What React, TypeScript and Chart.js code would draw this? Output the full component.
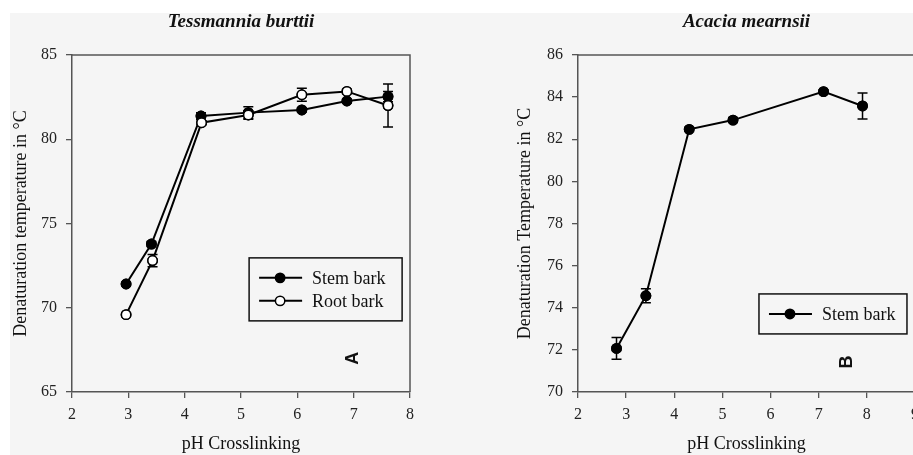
import React, { useEffect, useRef } from "react";
import { Chart, registerables } from "chart.js";

Chart.register(...registerables);

// ---- Data: Tessmannia burttii (panel A) ----
const tbStemPH = [2.96, 3.41, 4.29, 5.13, 6.08, 6.88, 7.61];
const tbStemTemp = [71.41, 73.78, 81.38, 81.58, 81.74, 82.27, 82.53];
const tbStemErr = [0.1, 0.15, 0.2, 0.35, 0.12, 0.12, 0.3];
const tbRootPH = [2.96, 3.43, 4.3, 5.13, 6.08, 6.88, 7.61];
const tbRootTemp = [69.59, 72.8, 80.98, 81.44, 82.64, 82.84, 82.0];
const tbRootErr = [0.1, 0.36, 0.12, 0.25, 0.38, 0.12, 1.28];
const tbXTicks = [2, 3, 4, 5, 6, 7, 8];
const tbYTicks = [65, 70, 75, 80, 85];

// ---- Data: Acacia mearnsii (panel B) ----
const amStemPH = [2.8, 3.41, 4.31, 5.22, 7.1, 7.91];
const amStemTemp = [72.07, 74.57, 82.47, 82.91, 84.26, 83.58];
const amStemErr = [0.52, 0.33, 0.1, 0.12, 0.08, 0.62];
const amXTicks = [2, 3, 4, 5, 6, 7, 8, 9];
const amYTicks = [70, 72, 74, 76, 78, 80, 82, 84, 86];

const SERIF = "'Liberation Serif', 'Times New Roman', serif";
const SANS = "'Liberation Sans', Arial, sans-serif";
const BG = "#f5f5f5";
const AXIS = "#555";

const errorBarPlugin = {
  id: "errorBars",
  afterDatasetsDraw(chart: any) {
    const ctx = chart.ctx;
    const xs = chart.scales.x;
    const ys = chart.scales.y;
    ctx.save();
    ctx.strokeStyle = "#000";
    ctx.lineWidth = 1.5;
    chart.data.datasets.forEach((ds: any) => {
      if (!ds.errors) return;
      ds.data.forEach((p: any, i: number) => {
        const e = ds.errors[i];
        const px = xs.getPixelForValue(p.x);
        const y1 = ys.getPixelForValue(p.y + e);
        const y2 = ys.getPixelForValue(p.y - e);
        ctx.beginPath();
        ctx.moveTo(px, y1);
        ctx.lineTo(px, y2);
        ctx.moveTo(px - 5, y1);
        ctx.lineTo(px + 5, y1);
        ctx.moveTo(px - 5, y2);
        ctx.lineTo(px + 5, y2);
        ctx.stroke();
      });
    });
    ctx.restore();
    // redraw markers on top of error bars
    chart.data.datasets.forEach((ds: any, di: number) => {
      const meta = chart.getDatasetMeta(di);
      meta.data.forEach((pt: any) => pt.draw(ctx, chart.chartArea));
    });
  },
};

const framePlugin = {
  id: "frame",
  afterDraw(chart: any) {
    const { ctx, chartArea } = chart;
    ctx.save();
    ctx.strokeStyle = AXIS;
    ctx.lineWidth = 1.5;
    ctx.beginPath();
    ctx.moveTo(chartArea.left, chartArea.top);
    ctx.lineTo(chartArea.right, chartArea.top);
    ctx.lineTo(chartArea.right, chartArea.bottom);
    ctx.stroke();
    ctx.restore();
  },
};

const boxLegendPlugin = {
  id: "boxLegend",
  afterDraw(chart: any, _args: any, opts: any) {
    const { ctx, chartArea } = chart;
    const left = chartArea.left + opts.fx * (chartArea.right - chartArea.left);
    const top = chartArea.top + opts.fy * (chartArea.bottom - chartArea.top);
    ctx.save();
    ctx.fillStyle = BG;
    ctx.fillRect(left, top, opts.w, opts.h);
    ctx.strokeStyle = "#111";
    ctx.lineWidth = 1.5;
    ctx.strokeRect(left, top, opts.w, opts.h);
    const dss = chart.data.datasets;
    const start = top + (opts.h - (dss.length - 1) * opts.rowGap) / 2;
    dss.forEach((ds: any, i: number) => {
      const y = start + i * opts.rowGap;
      ctx.strokeStyle = ds.borderColor;
      ctx.lineWidth = ds.borderWidth;
      ctx.beginPath();
      ctx.moveTo(left + 10, y);
      ctx.lineTo(left + 53, y);
      ctx.stroke();
      ctx.beginPath();
      ctx.arc(left + 31, y, ds.pointRadius, 0, Math.PI * 2);
      ctx.fillStyle = ds.pointBackgroundColor;
      ctx.fill();
      ctx.lineWidth = ds.pointBorderWidth;
      ctx.strokeStyle = ds.pointBorderColor;
      ctx.stroke();
      ctx.fillStyle = "#111";
      ctx.font = `18px ${SERIF}`;
      ctx.textBaseline = "middle";
      ctx.textAlign = "left";
      ctx.fillText(ds.label, left + 63, y + 1);
    });
    ctx.restore();
  },
};

const letterPlugin = {
  id: "panelLetter",
  afterDraw(chart: any, _args: any, opts: any) {
    const { ctx } = chart;
    const px = chart.scales.x.getPixelForValue(opts.x);
    const py = chart.scales.y.getPixelForValue(opts.y);
    ctx.save();
    ctx.translate(px, py);
    ctx.rotate(-Math.PI / 2);
    ctx.font = `bold 18px ${SANS}`;
    ctx.fillStyle = "#111";
    ctx.textAlign = "center";
    ctx.textBaseline = "middle";
    ctx.fillText(opts.text, 0, 0);
    ctx.restore();
  },
};

function makeDataset(label: string, xs: number[], ys: number[], errs: number[], filled: boolean) {
  return {
    label,
    data: xs.map((x, i) => ({ x, y: ys[i] })),
    errors: errs,
    borderColor: "#000",
    borderWidth: 2,
    pointRadius: 4.7,
    pointHoverRadius: 4.7,
    pointBorderWidth: 1.5,
    pointBorderColor: "#000",
    pointBackgroundColor: filled ? "#000" : "#fff",
    tension: 0,
    clip: false,
  };
}

function makeConfig(p: any): any {
  return {
    type: "line",
    data: { datasets: p.datasets },
    options: {
      responsive: false,
      animation: false,
      events: [],
      layout: { padding: { left: p.padLeft, right: p.padRight, top: 0, bottom: 0 } },
      plugins: {
        legend: { display: false },
        tooltip: { enabled: false },
        title: {
          display: true,
          text: p.title,
          fullSize: false,
          color: "#111",
          font: { family: SERIF, size: 19, style: "italic", weight: "bold" },
          padding: { top: 10.6, bottom: 21.6 },
        },
        boxLegend: p.legend,
        panelLetter: p.letter,
      },
      scales: {
        x: {
          type: "linear",
          position: "bottom",
          min: p.xTicks[0],
          max: p.xTicks[p.xTicks.length - 1],
          afterBuildTicks: (s: any) => {
            s.ticks = p.xTicks.map((v: number) => ({ value: v }));
          },
          ticks: { color: "#222", font: { family: SERIF, size: 16 }, padding: 7, maxRotation: 0 },
          grid: { drawOnChartArea: false, drawTicks: true, tickLength: 6, color: AXIS, lineWidth: 1.3 },
          border: { color: AXIS, width: 1.5 },
          title: {
            display: true,
            text: "pH Crosslinking",
            color: "#111",
            font: { family: SERIF, size: 18 },
            padding: 0,
          },
          afterFit: (s: any) => {
            s.height = 63;
          },
        },
        y: {
          position: "left",
          min: p.yTicks[0],
          max: p.yTicks[p.yTicks.length - 1],
          afterBuildTicks: (s: any) => {
            s.ticks = p.yTicks.map((v: number) => ({ value: v }));
          },
          ticks: { color: "#222", font: { family: SERIF, size: 16 }, padding: 9 },
          grid: { drawOnChartArea: false, drawTicks: true, tickLength: 6, color: AXIS, lineWidth: 1.3 },
          border: { color: AXIS, width: 1.5 },
          title: {
            display: true,
            text: p.yTitle,
            color: "#111",
            font: { family: SERIF, size: 18 },
            padding: 0,
          },
          afterFit: (s: any) => {
            s.width = p.yWidth;
          },
        },
      },
    },
    plugins: [errorBarPlugin, framePlugin, boxLegendPlugin, letterPlugin],
  };
}

export default function App() {
  const leftRef = useRef<HTMLCanvasElement | null>(null);
  const rightRef = useRef<HTMLCanvasElement | null>(null);

  useEffect(() => {
    const a = new Chart(
      leftRef.current as HTMLCanvasElement,
      makeConfig({
        title: "Tessmannia burttii",
        yTitle: "Denaturation temperature in °C",
        xTicks: tbXTicks,
        yTicks: tbYTicks,
        padLeft: 10,
        padRight: 40,
        yWidth: 62,
        datasets: [
          makeDataset("Stem bark", tbStemPH, tbStemTemp, tbStemErr, true),
          makeDataset("Root bark", tbRootPH, tbRootTemp, tbRootErr, false),
        ],
        legend: { fx: 0.524, fy: 0.602, w: 153, h: 63, rowGap: 23 },
        letter: { text: "A", x: 6.99, y: 67.0 },
      })
    );
    const b = new Chart(
      rightRef.current as HTMLCanvasElement,
      makeConfig({
        title: "Acacia mearnsii",
        yTitle: "Denaturation Temperature in °C",
        xTicks: amXTicks,
        yTicks: amYTicks,
        padLeft: 64,
        padRight: 45,
        yWidth: 64,
        datasets: [makeDataset("Stem bark", amStemPH, amStemTemp, amStemErr, true)],
        legend: { fx: 0.537, fy: 0.709, w: 148, h: 40, rowGap: 23 },
        letter: { text: "B", x: 7.59, y: 71.42 },
      })
    );
    return () => {
      a.destroy();
      b.destroy();
    };
  }, []);

  return (
    <div
      style={{
        position: "fixed",
        left: 0,
        top: 0,
        width: 913,
        height: 455,
        overflow: "hidden",
        background: "#fff",
      }}
    >
      <div style={{ position: "absolute", left: 10, top: 13, right: 0, bottom: 0, background: BG }} />
      <canvas
        ref={leftRef}
        width={450}
        height={455}
        style={{ position: "absolute", left: 0, top: 0, width: 450, height: 455 }}
      />
      <canvas
        ref={rightRef}
        width={510}
        height={455}
        style={{ position: "absolute", left: 450, top: 0, width: 510, height: 455 }}
      />
    </div>
  );
}
